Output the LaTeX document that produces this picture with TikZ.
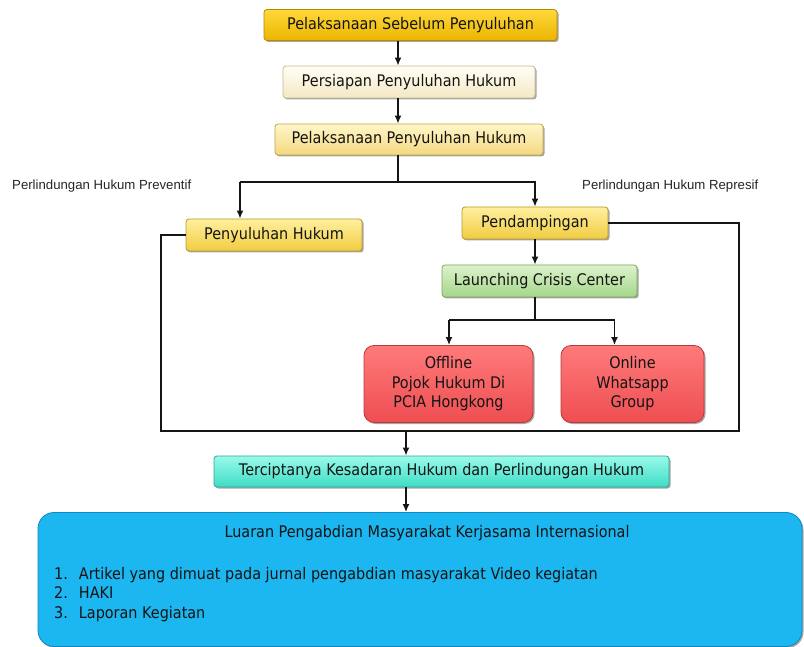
\documentclass[tikz,border=0pt]{standalone}
\usepackage{fontspec}
\setmainfont{DejaVu Sans}[FakeStretch=0.9]
\newfontfamily\labfont{Liberation Sans}
\usetikzlibrary{arrows.meta,shadows,calc}
\definecolor{lineC}{HTML}{151515}
\definecolor{goldT}{HTML}{FFD93A}\definecolor{goldB}{HTML}{EBB400}\definecolor{goldD}{HTML}{B88A00}
\definecolor{creT}{HTML}{FFFFF6}\definecolor{creB}{HTML}{F4E8C4}\definecolor{creD}{HTML}{C9B98A}
\definecolor{ligT}{HTML}{FFF6C8}\definecolor{ligB}{HTML}{F4D880}\definecolor{ligD}{HTML}{C2A650}
\definecolor{yelT}{HTML}{FFF0A0}\definecolor{yelB}{HTML}{F0CC40}\definecolor{yelD}{HTML}{B8982A}
\definecolor{grnT}{HTML}{DDF2CC}\definecolor{grnB}{HTML}{A4D68A}\definecolor{grnD}{HTML}{78A860}
\definecolor{redT}{HTML}{FF7A7A}\definecolor{redB}{HTML}{EE4E52}\definecolor{redD}{HTML}{B83A3C}
\definecolor{teaT}{HTML}{9AFAEA}\definecolor{teaB}{HTML}{3EDCC6}\definecolor{teaD}{HTML}{2AA898}
\definecolor{bluF}{HTML}{1CB6F0}\definecolor{bluD}{HTML}{0E88C0}
\tikzset{
  box/.style={draw, line width=0.8pt, rounded corners=3pt, minimum height=#1, inner sep=0pt,
    font=\fontsize{16}{19.5}\selectfont, text=black!92,
    drop shadow={shadow xshift=1.5pt, shadow yshift=-1.5pt, opacity=0.35, fill=black}},
  box/.default=31pt,
  goldbox/.style={box, draw=goldD, top color=goldT, bottom color=goldB},
  creambox/.style={box, draw=creD, top color=creT, bottom color=creB},
  lightbox/.style={box, draw=ligD, top color=ligT, bottom color=ligB},
  ybox/.style={box, draw=yelD, top color=yelT, bottom color=yelB},
  gbox/.style={box, draw=grnD, top color=grnT, bottom color=grnB},
  rbox/.style={box=77pt, rounded corners=10pt, draw=redD, top color=redT, bottom color=redB, align=center},
  tbox/.style={box, draw=teaD, top color=teaT, bottom color=teaB},
  arr/.style={draw=lineC, line width=1.6pt, -{Latex[length=8pt,width=7pt]}},
  ln/.style={draw=lineC, line width=1.6pt},
  lab/.style={font=\labfont\fontsize{13.2}{15}\selectfont, text=black!85, inner sep=0pt, anchor=west},
}
\begin{document}
\begin{tikzpicture}[x=1pt,y=-1pt]
\useasboundingbox (0,0) rectangle (804,647);
% boxes
\node[goldbox, minimum width=293pt] (n1) at (410.5,25) {Pelaksanaan Sebelum Penyuluhan};
\node[creambox, minimum width=252pt, minimum height=32pt] (n2) at (409,82) {Persiapan Penyuluhan Hukum};
\node[lightbox, minimum width=268pt] (n3) at (409,139.5) {Pelaksanaan Penyuluhan Hukum};
\node[ybox, minimum width=176pt, minimum height=32pt] (pen) at (274,235) {Penyuluhan Hukum};
\node[ybox, minimum width=146pt, minimum height=32pt] (pend) at (535,223) {Pendampingan};
\node[gbox, minimum width=195pt, minimum height=32pt] (lcc) at (539.5,281) {Launching Crisis Center};
\node[rbox, minimum width=169pt] (off) at (448.5,384) {Offline\\Pojok Hukum Di\\PCIA Hongkong};
\node[rbox, minimum width=143pt] (on) at (632.5,384) {Online\\Whatsapp\\Group};
\node[tbox, minimum width=455pt] (ter) at (441.5,471.5) {Terciptanya Kesadaran Hukum dan Perlindungan Hukum};
\node[draw=bluD, line width=0.8pt, fill=bluF, rounded corners=16pt,
      minimum width=764pt, minimum height=134pt, inner sep=0pt,
      drop shadow={shadow xshift=1.5pt, shadow yshift=-1.5pt, opacity=0.35, fill=black}] (out) at (420,579.5) {};
\node[font=\fontsize{16}{19}\selectfont, text=black!92, inner sep=0pt] (outt) at (427,533) {Luaran Pengabdian Masyarakat Kerjasama Internasional};
\node[font=\fontsize{16}{19.5}\selectfont, text=black!92, inner sep=0pt, anchor=north west, align=left] (outl) at (54,565.5)
 {\begin{tabular}{@{}l@{\hspace{11pt}}l@{}}1.&Artikel yang dimuat pada jurnal pengabdian masyarakat Video kegiatan\\2.&HAKI\\3.&Laporan Kegiatan\end{tabular}};
% labels
\node[lab] (lp) at (12,186) {Perlindungan Hukum Preventif};
\node[lab] (lr) at (582,186) {Perlindungan Hukum Represif};
% coordinates
\coordinate (ax) at (398,0);
\coordinate (bx) at (406,0);
\coordinate (lx) at (240,0);
\coordinate (rx) at (535,0);
\coordinate (ox) at (449,0);
\coordinate (nx) at (614.5,0);
\coordinate (jA) at (398,182);
\coordinate (jB) at (535,320);
\coordinate (cL) at (161,431);
\coordinate (cR) at (739,431);
% connectors
\draw[arr] (n1.south -| ax) -- (n2.north -| ax);
\draw[arr] (n2.south -| ax) -- (n3.north -| ax);
\draw[ln] (n3.south -| ax) -- (jA);
\draw[arr] (jA -| lx) -- (pen.north -| lx);
\draw[arr] (jA -| lx) -- (jA -| rx) -- (pend.north -| rx);
\draw[arr] (pend.south -| rx) -- (lcc.north -| rx);
\draw[ln] (lcc.south -| rx) -- (jB);
\draw[arr] (jB -| ox) -- (off.north -| ox);
\draw[arr] (jB -| ox) -- (jB -| nx) -- (on.north -| nx);
\draw[ln] (pen.west) -| (cL) -- (cR) |- (pend.east);
\draw[arr] (cL -| bx) -- (ter.north -| bx);
\draw[arr] (ter.south -| bx) -- (out.north -| bx);
\end{tikzpicture}
\end{document}
